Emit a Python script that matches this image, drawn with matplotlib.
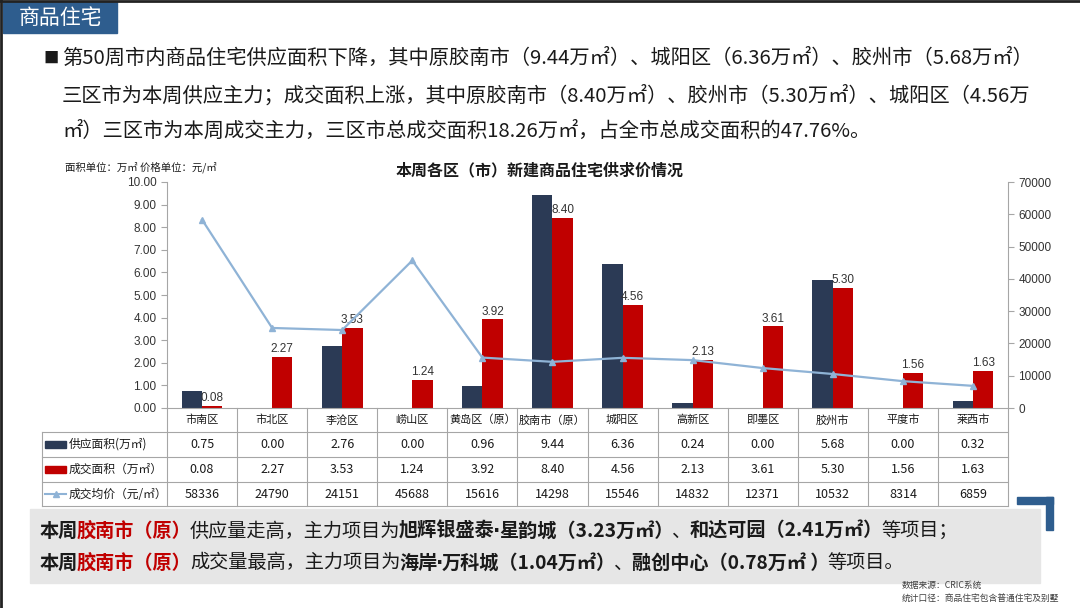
import numpy as np
import matplotlib
matplotlib.use("Agg")
import matplotlib.pyplot as plt
from matplotlib.patches import Rectangle
from matplotlib.transforms import blended_transform_factory

plt.rcParams['font.family'] = ['Noto Sans CJK SC', 'DejaVu Sans']

# %% data
districts = ['市南区', '市北区', '李沧区', '崂山区', '黄岛区（原）', '胶南市（原）',
             '城阳区', '高新区', '即墨区', '胶州市', '平度市', '莱西市']
supply = [0.75, 0.00, 2.76, 0.00, 0.96, 9.44, 6.36, 0.24, 0.00, 5.68, 0.00, 0.32]
deal = [0.08, 2.27, 3.53, 1.24, 3.92, 8.40, 4.56, 2.13, 3.61, 5.30, 1.56, 1.63]
price = [58336, 24790, 24151, 45688, 15616, 14298, 15546, 14832, 12371, 10532, 8314, 6859]
row_names = ['供应面积(万㎡)', '成交面积（万㎡）', '成交均价（元/㎡）']

bullet_lines = [
    '第50周市内商品住宅供应面积下降，其中原胶南市（9.44万㎡）、城阳区（6.36万㎡）、胶州市（5.68万㎡）',
    '三区市为本周供应主力；成交面积上涨，其中原胶南市（8.40万㎡）、胶州市（5.30万㎡）、城阳区（4.56万',
    '㎡）三区市为本周成交主力，三区市总成交面积18.26万㎡，占全市总成交面积的47.76%。',
]

NAVY = '#2b3a55'
RED = '#c00000'
LINEC = '#8fb3d6'
GRID = '#a6a6a6'
BLUE = '#2e5d8e'
TXT = '#1a1a1a'

# %% canvas (pixel coords)
fig = plt.figure(figsize=(10.8, 6.08), dpi=100)
bg = fig.add_axes([0, 0, 1, 1])
bg.set_xlim(0, 1080)
bg.set_ylim(608, 0)
bg.axis('off')

bg.plot([0, 1080], [1, 1], color='#222222', lw=2)
bg.plot([1, 1], [0, 608], color='#222222', lw=2)

bg.add_patch(Rectangle((3, 2), 114, 31, color=BLUE))
bg.text(60, 17.5, '商品住宅', color='white', fontsize=15, ha='center', va='center')

bg.text(43, 58, '■', fontsize=11, va='center', color=TXT)
for y, line in zip([58, 96, 131], bullet_lines):
    bg.text(62, y, line, fontsize=14.6, va='center', color=TXT)

bg.text(540, 170, '本周各区（市）新建商品住宅供求价情况', fontsize=11.5, weight='bold',
        ha='center', va='center', color=TXT)
bg.text(65, 167, '面积单位：万㎡ 价格单位：元/㎡', fontsize=7.5, va='center', color=TXT)

# %% chart
AX_L, AX_R, AX_T, AX_B = 167, 1008, 182, 408
ax = fig.add_axes([AX_L / 1080, (608 - AX_B) / 608, (AX_R - AX_L) / 1080, (AX_B - AX_T) / 608])
ax.patch.set_alpha(0)
x = np.arange(len(districts))
w = 0.29
ax.bar(x - w / 2, supply, w, color=NAVY, zorder=2)
ax.bar(x + w / 2, deal, w, color=RED, zorder=2)
for xi, v in zip(x, deal):
    ax.text(xi + w / 2, v + 0.08, f'{v:.2f}', ha='center', va='bottom', fontsize=8.5,
            family='Liberation Sans', color='#333333')
ax.set_xlim(-0.5, len(districts) - 0.5)
ax.set_ylim(0, 10)
ax.set_yticks(np.arange(0, 10.01, 1))
ax.yaxis.set_major_formatter('{x:.2f}')
ax.set_xticks([])
for s in ['top', 'right']:
    ax.spines[s].set_visible(False)
for s in ['left', 'bottom']:
    ax.spines[s].set_color(GRID)
ax.tick_params(axis='y', direction='out', length=4, color=GRID, labelcolor='#333333', labelsize=8.5)
for lab in ax.get_yticklabels():
    lab.set_family('Liberation Sans')

ax2 = ax.twinx()
ax2.plot(x, price, color=LINEC, marker='^', ms=5, lw=1.6, zorder=3)
ax2.set_ylim(0, 70000)
ax2.set_yticks(np.arange(0, 70001, 10000))
for s in ['top', 'left', 'bottom']:
    ax2.spines[s].set_visible(False)
ax2.spines['right'].set_color(GRID)
ax2.tick_params(axis='y', direction='out', length=4, color=GRID, labelcolor='#333333', labelsize=8.5)
for lab in ax2.get_yticklabels():
    lab.set_family('Liberation Sans')

# %% data table
trans = blended_transform_factory(ax.transData, bg.transData)
row_edges = [408, 432, 457, 482, 506]
for y in row_edges[1:]:
    bg.plot([42, AX_R], [y, y], color=GRID, lw=0.8)
for b in np.arange(-0.5, len(districts)):
    bg.plot([b, b], [408, 506], color=GRID, lw=0.8, transform=trans)
bg.plot([42, 42], [432, 506], color=GRID, lw=0.8)

for i, name in enumerate(districts):
    bg.text(i, 420, name, transform=trans, ha='center', va='center', fontsize=8, color=TXT)
    bg.text(i, 444.5, f'{supply[i]:.2f}', transform=trans, ha='center', va='center', fontsize=9, color=TXT)
    bg.text(i, 469.5, f'{deal[i]:.2f}', transform=trans, ha='center', va='center', fontsize=9, color=TXT)
    bg.text(i, 494, f'{price[i]}', transform=trans, ha='center', va='center', fontsize=9, color=TXT)

bg.add_patch(Rectangle((45, 440.5), 21, 7, color=NAVY))
bg.add_patch(Rectangle((45, 465.5), 21, 7, color=RED))
bg.plot([45, 66], [494, 494], color=LINEC, lw=1.5)
bg.plot([55.5], [494], color=LINEC, marker='^', ms=4)
for y, name in zip([444.5, 469.5, 494], row_names):
    bg.text(69, y, name, fontsize=8.5, va='center', color=TXT)

# %% bottom box
bg.add_patch(Rectangle((30, 509), 1010, 74, color='#e6e6e6'))
renderer = fig.canvas.get_renderer()


def rich(x0, y, parts, size=13.8):
    xx = x0
    for s, color, bold in parts:
        fam = ['DejaVu Sans'] if s == '·' else None
        t = bg.text(xx, y, s, color=color, fontsize=size, weight='bold' if bold else 'normal',
                    va='center', family=fam)
        xx = t.get_window_extent(renderer=renderer).x1 - 1.5


rich(40, 531, [('本周', TXT, True), ('胶南市（原）', RED, True), ('供应量走高，主力项目为', TXT, False),
               ('旭辉银盛泰', TXT, True), ('·', TXT, True), ('星韵城（3.23万㎡）', TXT, True), ('、', TXT, False),
               ('和达可园（2.41万㎡）', TXT, True), ('等项目；', TXT, False)])
rich(40, 563, [('本周', TXT, True), ('胶南市（原）', RED, True), ('成交量最高，主力项目为', TXT, False),
               ('海岸', TXT, True), ('·', TXT, True), ('万科城（1.04万㎡）', TXT, True), ('、', TXT, False),
               ('融创中心（0.78万㎡ ）', TXT, True), ('等项目。', TXT, False)])

# decorative bracket
bg.add_patch(Rectangle((1017, 497), 36, 7, color=BLUE))
bg.add_patch(Rectangle((1046, 497), 7, 33, color=BLUE))

bg.text(902, 585, '数据来源：CRIC系统', fontsize=6.3, color='#404040', va='center')
bg.text(902, 598, '统计口径：商品住宅包含普通住宅及别墅', fontsize=6.3, color='#404040', va='center')

fig.savefig('out.png', dpi=100)
